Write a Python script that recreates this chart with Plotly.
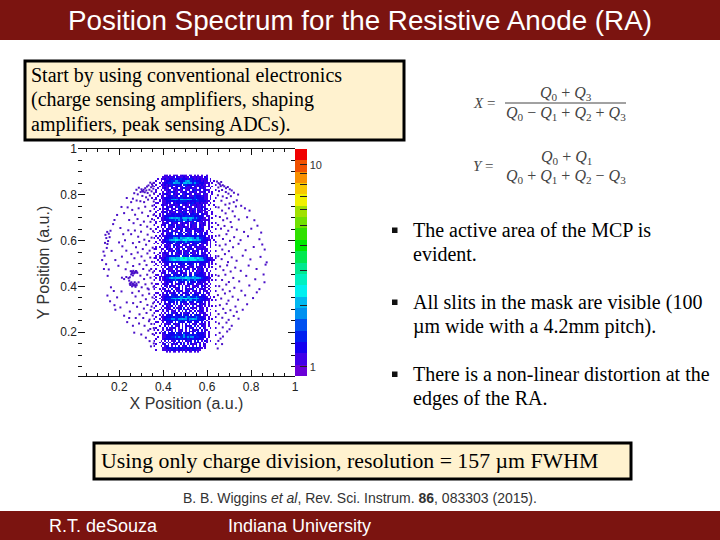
import math
import plotly.graph_objects as go

# ---------- data ----------
grid_x_start = 0.360
grid_x_step = 0.008
grid_y_top = 0.884
grid_y_step = 0.008
# digit = index into cell_levels (counts per cell), '.' = empty
cell_levels = [None, 1.06, 1.2, 1.5, 1.8, 2.0, 2.4, 3.0]

# x = 0.360 .. 0.640
band_rows = [
    "......11.1.111.1211.21.1.1.1..1.....",
    ".....1112112.2111211.2112111.21.....",
    "..1.112112213223222133212121112.1...",
    ".1..1.1222334432234543232221211.1.1.",
    "1..1.122333544433554543433222111.1..",
    ".1..112121323232.3322223121211.1...1",
    "1..1.111212.12211.3112.211212111.1..",
    "..1..1211.2112.1231112111.2121..1...",
    ".1..1.1122.121212.112.23112.1211...1",
    ".1...1.1213211.1122.11212.1112.1.1..",
    "1..1.12211.2112.312211.2111.211..1..",
    "..1.11.1223112.2312.21132221211.1...",
    ".1..112222232123322232232222211.1..1",
    "11.1.12233445435544544335322211.1...",
    "...1.112222232233332322233222211..1.",
    ".11..11212.21223222112321121211.1...",
    "1...1211.112112.1121.3112112.1.1..1.",
    ".1...1.2112.21321.1121.1211211.....1",
    "1..1.1122.111.21212.2113.112.21.1...",
    "..1..1.1112.2212.1112121.21111.1....",
    ".1..1121.2112.11232.1121.121.11..1..",
    "1..1.1.2112212231221.22312.2211..1..",
    ".1.1.122222232223233223222221.11...1",
    "..1.11233454454345545543432211.1.1..",
    "1...1122233343433443443332211111....",
    ".1.1.1.2122332232.32212.3212.1.1....",
    ".1...1121.2112.12121.1312.1121.1.1.1",
    "1...112.1321.21121.1.2113.2121.1....",
    "..1.1.1.2112.2311211.2112.211..1.1..",
    ".1...1.2111.21212.31211211321..1...1",
    "...1.1212.3111.21.2112.211211.1.1...",
    "1.1..1.1212.2321.2.321.1.212.21..1..",
    "....11.2123.2.232.2132.23.12.21.....",
    ".1.1.1122223222322223222232212.1.1.1",
    "1.1.1.22233454354456554345332211.1..",
    "...1.1233455665456656655454322211.1.",
    ".1..112222334322334332233332221.1..1",
    "1.1..1.2122.2232.3223.2222.1221.1...",
    "....1.1121.2112.211.21213.211.1.1..1",
    ".1.1..1211.3.2111.2112.1211121..1...",
    "11..11.2121.112.13.1121.3112111.....",
    "....1.1.2112.321.1211.2112.1.21.1..1",
    "1..1.1211.2.1121.213.211.2.211.1....",
    "..1..1121.3.2111.2111.2132.1121.1...",
    ".1.1.1122222232.3322.3222222212.1..1",
    "11.1112334554556676566655654332111.1",
    "..1.1223345665566665566654554322211.",
    "1..1.122222322223333222232222221.1..",
    ".1..1.122.2.3.2232.2223.2.2221.1.1.1",
    "1.1..1121.2111.2112.121.3.2112.1....",
    "....1.1.2113.21121.2112.2112.1.1.1..",
    ".1...1.2111.21.3.1121.12.1321.1....1",
    "1..1.11.2112.1121.3.2.1.21121.1.1...",
    "....112.1.3121.2111.21.3112211.1....",
    ".11.1.1222.23222.32.22.3222221.1.1.1",
    "1..11122223343343344334433222211.1..",
    ".1.1.1233454455455655454554322211...",
    "1..1.122223343234334433433222211.1.1",
    "....1.12122.2.3222.3.222.22121.1....",
    ".11..1121.2.1121.1.2131.2112.11.1...",
    "1...1.21.2111.3.2.112.1121.211.1...1",
    ".1...1.1.2.2112.2.3.1.21.2.3.11.1...",
    "1..1.12.1.3.112.1.21113.2.1121.1....",
    "....1.1121.2.1121.132.112.1.211.1..1",
    ".11..1.2.1121.3.1121.1.2112.2.11....",
    "1..1.1122.3222.22.322.3222.221.1....",
    ".1..112222332334433443334322221.1.1.",
    "1..1.1233345546556654545543322211...",
    ".1..1122233343343343443343322211.1.1",
    "1.1.1.1.2232.2.3222.222.3222.1.1....",
    "...1..2112.1.3.2.112.1121.2121.1....",
    ".1...1.2112.3.112.1.2.3.1121.1.1.1.1",
    "1...1.1121.2.112.3.1.2112.211.1.....",
    "...1.2.1121.1.32.1121.1.3.211.1.1...",
    ".11..1.12.112.1.2.3.11.2.1121.1....1",
    "1...1.1.2.3112.2.1121.2.2.1121..1...",
    "...1.1.2222.2222.322.2.3222.211.1...",
    ".1..11222232332332433323432221.1...1",
    "1..1.1233344334454434454433222.1.1..",
    "....1122222323332332432223222.1.....",
    ".11..1.2122.2.3222.222.222.2.1.1...1",
    "1...1.1121.2112.1.2.3.112.1121.1....",
    "...1..2.1.3.112.1.2112.3.1.211.1....",
    ".1...1.2.1121.1.3.2.112.1.2.21..1..1",
    "1.1..1.1121.2.112.1.3.2112.2.11.....",
    "....1.2.1.2.3.112.1.2112.3.1.2.1....",
    ".1.1.12.2222.322.3222.2.322221.1....",
    "1....1122222332234233323322221.1...1",
    "..1..1122233434334343442332222.1....",
    ".1...122222232233223323222221.1.....",
    "1...1.1.2.112.3.1.2112.2.3.1.21.1...",
    "...1.1.2.1.3.112.1.2.3.1121.1.1.....",
    ".1...12.1.2112.2.3.1.2112.1.21.....1",
    "1...1.122.1.3.2.112.3.1.2.2.11......",
    ".....11222322322232232232211.1......",
    ".1...1112122212212122122111.........",
    ".......1.1.11.1.1.1.11.1.1..........",
]

# single-count cells outside the band: (x, y)
wing_points = [
    # top-left arc
    (.356,.852),(.349,.846),(.341,.853),(.333,.841),(.326,.836),(.318,.829),(.311,.822),(.304,.817),(.297,.812),
    (.308,.814),(.316,.811),(.323,.819),(.301,.824),(.289,.831),(.278,.822),(.268,.807),(.345,.833),(.352,.839),
    (.337,.822),(.329,.808),(.347,.815),(.355,.827),(.358,.806),(.339,.797),(.322,.789),(.305,.795),(.284,.802),
    (.262,.783),(.254,.768),(.279,.775),(.296,.772),(.313,.768),(.331,.779),(.349,.786),(.357,.771),
    # far left
    (.137,.625),(.141,.611),(.145,.638),(.149,.598),(.152,.63),(.146,.585),(.156,.615),(.135,.59),(.16,.643),
    (.143,.568),(.128,.552),(.133,.534),(.122,.515),(.14,.497),(.152,.474),(.147,.446),(.13,.476),(.165,.555),
    (.172,.672),(.19,.712),(.21,.747),(.234,.786),(.178,.69),(.205,.655),(.218,.628),(.226,.602),(.199,.592),
    (.214,.575),(.232,.556),(.241,.645),(.245,.69),(.222,.72),(.238,.745),(.182,.515),(.196,.49),(.212,.53),
    (.237,.505),(.229,.475),(.175,.38),(.162,.396),(.146,.36),(.19,.352),(.21,.378),(.158,.335),(.178,.318),
    (.205,.308),(.234,.33),(.182,.298),(.222,.272),(.248,.29),(.236,.244),(.262,.228),(.245,.262),(.275,.262),
    (.29,.238),(.268,.198),(.3,.19),
    # blob
    (.252,.466),(.258,.458),(.264,.468),(.27,.462),(.276,.467),(.282,.459),(.254,.452),(.262,.448),(.248,.44),
    (.242,.436),(.232,.441),(.222,.432),(.212,.438),(.245,.425),(.255,.418),(.262,.412),(.27,.418),(.278,.412),
    (.25,.406),(.258,.4),(.266,.404),(.274,.398),(.26,.463),(.267,.457),(.273,.46),(.279,.464),(.256,.466),
    (.252,.413),(.259,.407),(.265,.41),(.272,.405),(.279,.405),(.248,.412),
    # mid left
    (.259,.734),(.272,.713),(.288,.741),(.304,.722),(.318,.748),(.331,.707),(.265,.676),(.283,.694),(.297,.668),
    (.312,.683),(.327,.661),(.341,.729),(.254,.628),(.271,.644),(.286,.617),(.299,.639),(.314,.604),(.329,.626),
    (.343,.651),(.349,.694),(.262,.589),(.276,.571),(.291,.594),(.307,.563),(.322,.582),(.336,.598),(.347,.613),
    (.255,.541),(.269,.523),(.284,.548),(.301,.531),(.315,.512),(.328,.544),(.341,.526),(.352,.569),(.263,.489),
    (.292,.497),(.309,.476),(.324,.493),(.337,.469),(.349,.507),(.296,.447),(.313,.432),(.327,.451),(.342,.438),
    (.353,.461),(.288,.418),(.302,.396),(.319,.409),(.334,.387),(.348,.413),(.259,.372),(.274,.356),(.289,.379),
    (.306,.361),(.321,.344),(.336,.368),(.351,.352),(.263,.327),(.281,.311),(.297,.332),(.312,.303),(.328,.319),
    (.343,.297),(.354,.326),(.292,.278),(.309,.262),(.324,.284),(.338,.255),(.352,.273),(.315,.228),(.332,.207),
    (.346,.236),(.357,.218),(.321,.176),(.338,.161),(.352,.192),(.344,.138),(.357,.151),(.335,.248),(.329,.391),
    (.345,.476),(.338,.556),(.354,.641),(.342,.682),(.356,.712),(.351,.752),(.356,.398),(.347,.312),(.341,.214),
    # top-right arc
    (.645,.858),(.652,.851),(.658,.846),(.664,.856),(.671,.842),(.662,.838),(.651,.832),(.678,.837),(.686,.829),
    (.694,.834),(.703,.824),(.712,.819),(.722,.809),(.668,.821),(.685,.812),(.697,.805),(.654,.816),(.649,.798),
    (.671,.793),(.689,.786),(.708,.794),(.741,.801),(.735,.776),(.721,.768),(.702,.762),(.683,.757),(.665,.774),
    # mid right
    (.652,.745),(.668,.731),(.684,.719),(.699,.741),(.716,.728),(.731,.749),(.755,.752),(.772,.741),(.793,.731),
    (.658,.703),(.673,.689),(.691,.697),(.707,.681),(.726,.706),(.744,.692),(.782,.702),(.815,.689),(.65,.668),
    (.663,.652),(.679,.664),(.696,.643),(.712,.659),(.735,.648),(.768,.638),(.801,.652),(.829,.665),(.846,.635),
    (.655,.622),(.672,.607),(.688,.628),(.704,.599),(.723,.615),(.752,.602),(.786,.619),(.838,.606),(.657,.578),
    (.669,.561),(.684,.583),(.699,.554),(.718,.571),(.743,.586),(.775,.558),(.812,.572),(.851,.583),(.862,.561),
    (.651,.532),(.666,.519),(.681,.541),(.695,.506),(.712,.527),(.734,.512),(.762,.534),(.797,.518),(.843,.529),
    (.659,.487),(.674,.471),(.691,.492),(.707,.465),(.728,.482),(.753,.468),(.789,.491),(.825,.476),(.866,.495),
    (.652,.446),(.668,.428),(.683,.451),(.699,.419),(.719,.437),(.746,.422),(.778,.446),(.819,.431),(.857,.452),
    (.655,.401),(.671,.386),(.687,.408),(.703,.379),(.724,.394),(.756,.381),(.792,.404),(.838,.388),(.649,.362),
    (.664,.347),(.681,.369),(.697,.338),(.716,.355),(.741,.342),(.773,.361),(.809,.349),(.658,.318),(.673,.302),
    (.689,.324),(.706,.296),(.729,.312),(.762,.298),(.652,.279),(.669,.263),(.684,.284),(.698,.254),(.721,.271),
    (.743,.259),(.654,.238),(.671,.221),(.688,.242),(.712,.228),(.657,.197),(.672,.181),(.691,.203),(.651,.162),
    (.668,.148),(.648,.129),(.661,.172),(.702,.213),(.735,.289),(.782,.322),(.826,.374),(.861,.418),(.871,.505),
]

cbar_colors = ["#6a00d8", "#4000e8", "#1400f0", "#0020f0", "#0050f0", "#0090f0", "#00b8f0",
               "#00f0f0", "#00f0c0", "#00e890", "#00e850", "#00e800", "#30e000", "#70e000",
               "#a0e000", "#f0f000", "#f8c800", "#f89000", "#f05000", "#f00000"]
cbar_tick_values = [1, 2, 3, 4, 5, 6, 7, 8, 9, 10]
cbar_tick_labels = ["1", "", "", "", "", "", "", "", "", "10"]
axis_ticks = [0.2, 0.4, 0.6, 0.8, 1]
axis_labels = ["0.2", "0.4", "0.6", "0.8", "1"]
x_range = [0.012, 1.0]
y_range = [0.0087, 1.0]
log_range = [-0.046, 1.078]

title_text = "Position Spectrum for the Resistive Anode (RA)"
box1_lines = ["Start by using conventional electronics",
              "(charge sensing amplifiers, shaping",
              "amplifiers, peak sensing ADCs)."]
box2_text = "Using only charge division, resolution = 157 µm FWHM"
bullets = [["The active area of the MCP is", "evident."],
           ["All slits in the mask are visible (100", "µm wide with a 4.2mm pitch)."],
           ["There is a non-linear distortion at the", "edges of the RA."]]
citation = "B. B. Wiggins <i>et al</i>, Rev. Sci. Instrum. <b>86</b>, 083303 (2015)."
footer_left = "R.T. deSouza"
footer_right = "Indiana University"

# ---------- build ----------
W, H = 720, 540
def fx(p): return p / W
def fy(p): return 1 - p / H

n_cols = 36
grid_x = [grid_x_start + grid_x_step * i for i in range(n_cols)]
grid_y = [grid_y_top - grid_y_step * r for r in range(len(band_rows))]
grid_z = []
for row in band_rows:
    vals = []
    for ch in row.ljust(n_cols, ".")[:n_cols]:
        lv = None if ch == "." else cell_levels[int(ch)]
        vals.append(None if lv is None else math.log10(lv))
    grid_z.append(vals)

steps = []
n = len(cbar_colors)
for i, c in enumerate(cbar_colors):
    steps.append([i / n, c])
    steps.append([(i + 1) / n, c])

fig = go.Figure()
fig.add_trace(go.Heatmap(
    x=grid_x, y=grid_y, z=grid_z, colorscale=steps, zmin=log_range[0], zmax=log_range[1],
    hoverongaps=False,
    colorbar=dict(
        x=fx(295), xanchor="left", thickness=12, thicknessmode="pixels",
        y=fy(376), yanchor="bottom", len=227 / H, lenmode="fraction",
        tickmode="array", tickvals=[math.log10(v) for v in cbar_tick_values],
        ticktext=cbar_tick_labels, ticks="inside", ticklen=7, tickcolor="#222", tickwidth=1,
        tickfont=dict(family="Liberation Sans", size=11, color="#333"),
        outlinewidth=0, xpad=0, ypad=0, ticklabelposition="outside",
    ),
))
fig.add_trace(go.Scatter(
    x=[p[0] for p in wing_points], y=[p[1] for p in wing_points], mode="markers",
    marker=dict(symbol="square", size=2, color="#4a10c8", line=dict(width=0)),
    showlegend=False, cliponaxis=True,
))

tickfont = dict(family="Liberation Sans", size=12, color="#222")
titlefont = dict(family="Liberation Sans", size=16, color="#333")
fig.update_xaxes(
    domain=[fx(78), fx(295)], range=x_range, tickmode="array", tickvals=axis_ticks,
    ticktext=axis_labels, ticks="inside", ticklen=6, tickcolor="#111", showgrid=False,
    zeroline=False, showline=True, linecolor="#111", linewidth=1, mirror="allticks",
    automargin=False,
    tickfont=tickfont, minor=dict(dtick=0.05, ticks="inside", ticklen=3, tickcolor="#111", showgrid=False),
    title=dict(text="X Position (a.u.)", font=titlefont, standoff=4),
)
fig.update_yaxes(
    domain=[fy(376), fy(149)], range=y_range, tickmode="array", tickvals=axis_ticks,
    ticktext=axis_labels, ticks="inside", ticklen=7, tickcolor="#111", showgrid=False,
    zeroline=False, showline=False, mirror="allticks",
    automargin=False,
    tickfont=tickfont, minor=dict(dtick=0.05, ticks="inside", ticklen=4, tickcolor="#111", showgrid=False),
    title=dict(text="Y Position (a.u.)", font=titlefont, standoff=6),
)

shapes = [
    dict(type="rect", xref="paper", yref="paper", x0=0, x1=1, y0=fy(40), y1=1,
         fillcolor="#7b1410", line=dict(width=0)),
    dict(type="rect", xref="paper", yref="paper", x0=0, x1=1, y0=0, y1=fy(511),
         fillcolor="#7b1410", line=dict(width=0)),
    dict(type="rect", xref="paper", yref="paper", x0=fx(25), x1=fx(404), y0=fy(140), y1=fy(61),
         fillcolor="#fff2cf", line=dict(color="black", width=3)),
    dict(type="rect", xref="paper", yref="paper", x0=fx(94), x1=fx(631), y0=fy(479), y1=fy(443),
         fillcolor="#fff2cf", line=dict(color="black", width=3)),
    dict(type="line", xref="paper", yref="paper", x0=fx(505), x1=fx(626), y0=fy(103), y1=fy(103),
         line=dict(color="#444", width=1)),
]
for by in (230, 302, 374):
    shapes.append(dict(type="rect", xref="paper", yref="paper", x0=fx(392), x1=fx(397.5),
                       y0=fy(by + 3), y1=fy(by - 2.5), fillcolor="#111", line=dict(width=0)))

ann = []
def text(x, y, t, size, family="Liberation Serif", color="black", anchor="left"):
    ann.append(dict(xref="paper", yref="paper", x=fx(x), y=fy(y), text=t, showarrow=False,
                    xanchor=anchor, yanchor="middle", borderpad=0,
                    font=dict(family=family, size=size, color=color)))

text(360, 21, title_text, 27.8, "Liberation Sans", "white", "center")
for i, line in enumerate(box1_lines):
    text(30, 76 + 24 * i, line, 20)
text(100, 461, box2_text, 21.8)
for block, y0 in zip(bullets, (230, 302, 374)):
    for i, line in enumerate(block):
        text(412, y0 + 24 * i, line, 20)
text(360, 498, citation, 14, "Liberation Sans", "#333", "center")
text(48, 526, footer_left, 18, "Liberation Sans", "white")
text(227, 526, footer_right, 18, "Liberation Sans", "white")

eq = "#444"
def Q(n): return f"<i>Q</i><sub>{n}</sub>"
text(472, 103, "<i>X</i> =", 15, color=eq)
text(566, 93, f"{Q(0)} + {Q(3)}", 16, color=eq, anchor="center")
text(566, 113, f"{Q(0)} − {Q(1)} + {Q(2)} + {Q(3)}", 16, color=eq, anchor="center")
text(472, 166, "<i>Y</i> =", 15, color=eq)
text(566, 157, f"{Q(0)} + {Q(1)}", 16, color=eq, anchor="center")
text(566, 176, f"{Q(0)} + {Q(1)} + {Q(2)} − {Q(3)}", 16, color=eq, anchor="center")

fig.update_layout(width=W, height=H, margin=dict(l=0, r=0, t=0, b=0, pad=0), showlegend=False,
                  paper_bgcolor="white", plot_bgcolor="white", shapes=shapes, annotations=ann)
fig.write_html("out.html", config={"displayModeBar": False},
               post_script="document.body.style.margin='0';document.body.style.overflow='hidden';")
